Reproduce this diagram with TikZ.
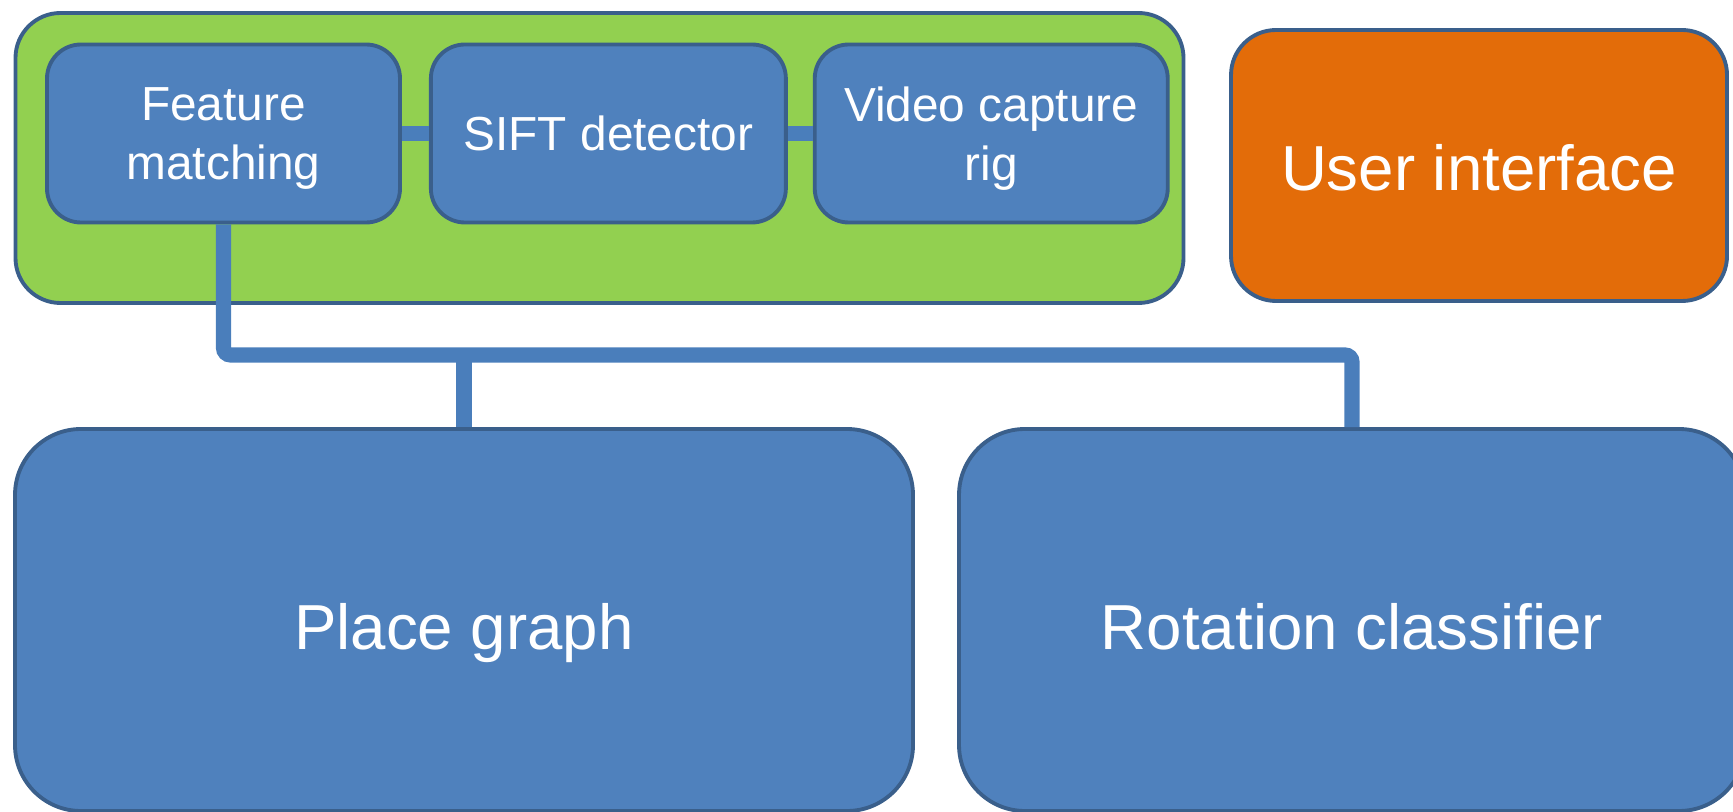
\documentclass[tikz,border=0pt]{standalone}
\usepackage{fontspec}
\setmainfont{Liberation Sans}
\usepackage{tikz}
\usetikzlibrary{positioning}

\definecolor{boxblue}{HTML}{4F81BD}
\definecolor{boxedge}{HTML}{3A5F8B}
\definecolor{linkblue}{HTML}{4A7EBB}
\definecolor{groupgreen}{HTML}{92D050}
\definecolor{uiorange}{HTML}{E36C09}

\begin{document}
\begin{tikzpicture}[
        box/.style = {draw=boxedge, line width=1.1pt, fill=boxblue, text=white, align=center, inner sep=0pt},
        small/.style = {box, rounded corners=0.34cm, minimum width=3.54cm, minimum height=1.78cm,
                        text depth=0pt, font=\fontsize{13.6}{16.8}\selectfont},
        big/.style = {box, rounded corners=0.66cm, minimum width=8.98cm, minimum height=3.82cm,
                      text height=0.71cm, text depth=0.13cm, font=\fontsize{18.1}{22}\selectfont},
        link/.style = {draw=linkblue, line width=4.3pt, rounded corners=2pt}]
            \useasboundingbox (0,0) rectangle (17.33,-8.12);

            % capture group
            \node[box, fill=groupgreen, rounded corners=0.45cm, minimum width=11.68cm, minimum height=2.90cm] (grp) at (5.995,-1.58) {};
            \node[small, minimum width=3.53cm] (fm) at (2.235,-1.335) {Feature\\matching};
            \node[small, minimum width=3.55cm] (sift) [right=0.27cm of fm] {SIFT detector};
            \node[small, minimum width=3.53cm] (vid) [right=0.25cm of sift] {Video capture\\rig};

            \node[big, fill=uiorange, rounded corners=0.45cm, minimum width=4.96cm, minimum height=2.71cm,
                  text height=0.5cm, text depth=0pt] (ui) at (14.79,-1.655) {User interface};

            \node[big] (place) at (4.64,-6.20) {Place graph};
            \node[big, minimum width=7.86cm] (rot) at (13.52,-6.20) {Rotation classifier};

            \path[link] (fm) -- (sift);
            \path[link] (sift) -- (vid);

            \coordinate (bus) at (0,-3.55);
            \path[link] (fm.south) |- (bus -| rot.north) -- (rot.north);
            \path[link] (bus -| place.north) -- (place.north);
        \end{tikzpicture}
\end{document}
